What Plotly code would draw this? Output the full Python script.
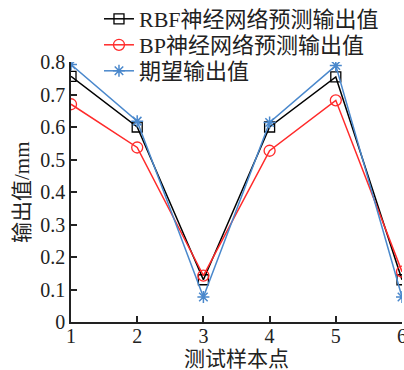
import plotly.graph_objects as go

# Test sample indices and output values (mm)
samples = [1, 2, 3, 4, 5, 6]
rbf_pred = [0.756, 0.600, 0.130, 0.600, 0.754, 0.130]
bp_pred = [0.670, 0.537, 0.143, 0.527, 0.682, 0.155]
expected = [0.792, 0.618, 0.077, 0.614, 0.789, 0.077]

y_ticks = [0, 0.1, 0.2, 0.3, 0.4, 0.5, 0.6, 0.7, 0.8]
y_tick_text = ["0", "0.1", "0.2", "0.3", "0.4", "0.5", "0.6", "0.7", "0.8"]

FONT = "Liberation Serif, Times New Roman, Noto Sans CJK SC, serif"
INK = "#222"

fig = go.Figure()
fig.add_trace(go.Scatter(
    x=samples, y=rbf_pred, mode="lines+markers", name="RBF神经网络预测输出值",
    legend="legend",
    line=dict(color="black", width=1.5),
    marker=dict(symbol="square-open", size=10, color="black", line=dict(width=1.3)),
))
fig.add_trace(go.Scatter(
    x=samples, y=bp_pred, mode="lines+markers", name="BP神经网络预测输出值",
    legend="legend2",
    line=dict(color="#ff2a2a", width=1.5),
    marker=dict(symbol="circle-open", size=11, color="#ff2a2a", line=dict(width=1.3)),
))
fig.add_trace(go.Scatter(
    x=samples, y=expected, mode="lines+markers", name="期望输出值",
    legend="legend3",
    line=dict(color="#4a88cc", width=1.5),
    marker=dict(symbol="asterisk-open", size=10, color="#4a88cc", line=dict(width=1.5)),
))


def legend_box(ycenter):
    return dict(
        x=0.245, y=ycenter, xref="container", yref="container",
        xanchor="left", yanchor="middle",
        bgcolor="rgba(0,0,0,0)", borderwidth=0,
        font=dict(family=FONT, size=22, color=INK),
        itemsizing="trace",
    )


fig.update_layout(
    width=404, height=370,
    margin=dict(l=71, r=2, t=62, b=48, autoexpand=False),
    paper_bgcolor="white", plot_bgcolor="white",
    font=dict(family=FONT, size=20, color=INK),
    showlegend=True,
    legend=legend_box(1 - 19 / 370),
    legend2=legend_box(1 - 45 / 370),
    legend3=legend_box(1 - 71 / 370),
    xaxis=dict(
        range=[1, 6], tickvals=samples, ticktext=[str(s) for s in samples],
        showline=True, linecolor=INK, linewidth=1.5,
        ticks="inside", ticklen=6, tickwidth=1.5, tickcolor=INK,
        showgrid=False, zeroline=False, ticklabeloverflow="allow",
        ticklabelstandoff=-5,
        tickfont=dict(size=20),
    ),
    yaxis=dict(
        range=[0, 0.8], tickvals=y_ticks, ticktext=y_tick_text,
        showline=True, linecolor=INK, linewidth=1.5,
        ticks="inside", ticklen=6, tickwidth=1.5, tickcolor=INK,
        showgrid=False, zeroline=False, ticklabeloverflow="allow",
        tickfont=dict(size=20),
    ),
    annotations=[
        dict(text="测试样本点", x=0.5, y=-0.142, xref="paper", yref="paper",
             xanchor="center", yanchor="middle", showarrow=False,
             font=dict(family=FONT, size=21, color=INK)),
        dict(text="输出值/mm", x=-0.148, y=0.5, xref="paper", yref="paper",
             xanchor="center", yanchor="middle", showarrow=False, textangle=-90,
             font=dict(family=FONT, size=21, color=INK)),
    ],
)

fig.write_html("out.html")
